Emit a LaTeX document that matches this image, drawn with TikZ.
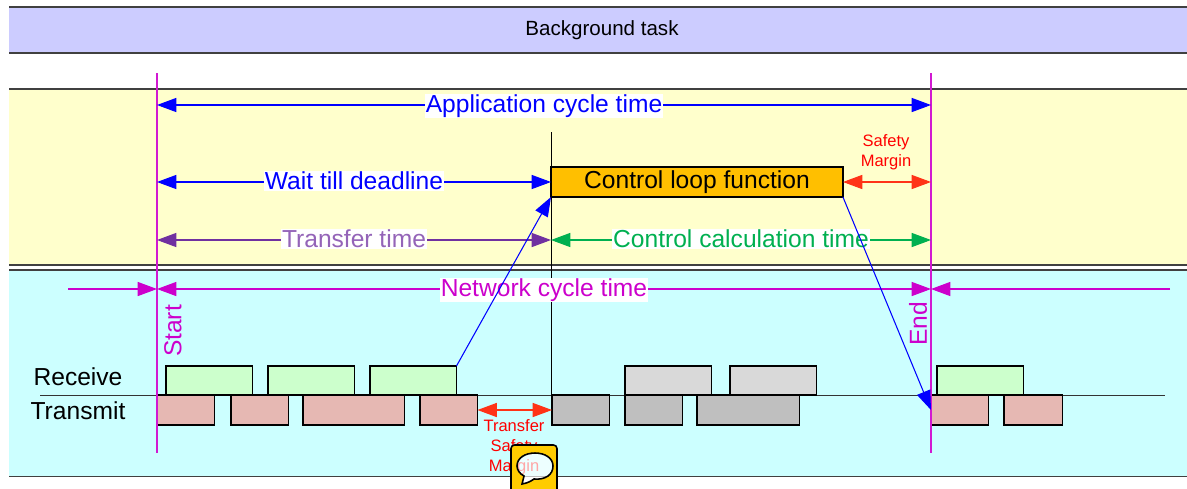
\documentclass[tikz,border=0pt]{standalone}
\usepackage{fontspec}
\setmainfont{Liberation Sans}
\usetikzlibrary{arrows.meta, positioning}
\definecolor{bandblue}{HTML}{CCCCFF}
\definecolor{bandyellow}{HTML}{FFFFCC}
\definecolor{bandcyan}{HTML}{CCFFFF}
\definecolor{rxgreen}{HTML}{CCFFCC}
\definecolor{txpink}{HTML}{E6B8B3}
\definecolor{rxgray}{HTML}{D9D9D9}
\definecolor{txgray}{HTML}{BFBFBF}
\definecolor{loopfill}{HTML}{FFBF00}
\definecolor{iconfill}{HTML}{FFCC00}
\definecolor{netmag}{HTML}{CC00CC}
\definecolor{xferpurple}{HTML}{7030A0}
\definecolor{calcgreen}{HTML}{00B050}
\definecolor{marginred}{HTML}{FF3317}
\newcommand{\bubblepath}{(524,476) -- (522,484) .. controls (528,483) and (531,481) .. (534,479) .. controls (545,480) and (553,475) .. (553,466) .. controls (553,458) and (545,453) .. (535,453) .. controls (525,453) and (517,458) .. (517,466) .. controls (517,470) and (520,474) .. (524,476) -- cycle}

\begin{document}
\begin{tikzpicture}[
  x=0.02cm, y=-0.02cm,
  band/.style={anchor=north west, minimum width=23.56cm, inner sep=0pt, outer sep=0pt},
  bandline/.style={draw=black!75, line width=0.6pt},
  rxbox/.style={draw, line width=0.65pt, anchor=north west, minimum height=0.58cm, inner sep=0pt, outer sep=0pt},
  txbox/.style={draw, line width=0.65pt, anchor=north west, minimum height=0.6cm, inner sep=0pt, outer sep=0pt},
  span/.style={{Triangle[length=11pt,width=8pt]}-{Triangle[length=11pt,width=8pt]}, line width=0.6pt},
  oneway/.style={-{Triangle[length=11pt,width=8pt]}, line width=0.6pt},
  mark line/.style={draw=netmag!90!white, line width=0.6pt},
  biglabel/.style={font=\fontsize{14}{16}\selectfont, fill=white, inner sep=0.5pt},
  small red/.style={font=\fontsize{9.4}{11.4}\selectfont, text=red, align=center, inner sep=0pt},
  side label/.style={font=\fontsize{14}{16}\selectfont, inner sep=0pt},
]
\useasboundingbox (0,0) rectangle (1187,488);

% Bands
\node[band, fill=bandblue, minimum height=0.92cm] (bgband) at (9,7) {};
\node[font=\fontsize{11.7}{13}\selectfont] (bgtask) at (602,30) {Background task};
\node[band, fill=bandyellow, minimum height=3.52cm] (appband) at (9,89) {};
\node[band, fill=bandcyan, minimum height=4.14cm] (netband) at (9,270) {};
\draw[bandline] (bgband.north west) -- (bgband.north east);
\draw[bandline] (bgband.south west) -- (bgband.south east);
\draw[bandline] (appband.north west) -- (appband.north east);
\draw[bandline] (appband.south west) -- (appband.south east);
\draw[bandline] (netband.north west) -- (netband.north east);
\draw[bandline] (netband.south west) -- (netband.south east);

% Time marks
\coordinate (starttop) at (157,73);
\coordinate (startbot) at (157,453);
\coordinate (endtop) at (931,73);
\coordinate (endbot) at (931,453);
\coordinate (midtop) at (551,132);
\coordinate (midbot) at (551,397);
\coordinate (lineleft) at (40,395);
\coordinate (lineright) at (1165,395);
\coordinate (netleft) at (68,289);
\coordinate (netright) at (1170,289);

\draw[black!80, line width=0.55pt] (lineleft) -- (lineright);
\draw[line width=0.5pt] (midtop) -- (midbot);

% Receive
\node[rxbox, fill=rxgreen, minimum width=1.73cm] (rxa) at (166,366) {};
\node[rxbox, fill=rxgreen, minimum width=1.73cm] (rxb) at (268,366) {};
\node[rxbox, fill=rxgreen, minimum width=1.73cm] (rxc) at (370,366) {};
\node[rxbox, fill=rxgray, minimum width=1.73cm] (rxd) at (625,366) {};
\node[rxbox, fill=rxgray, minimum width=1.73cm] (rxe) at (730,366) {};
\node[rxbox, fill=rxgreen, minimum width=1.73cm] (rxf) at (937,366) {};

% Transmit
\node[txbox, fill=txpink, minimum width=1.15cm] (txa) at (157,395) {};
\node[txbox, fill=txpink, minimum width=1.15cm] (txb) at (231,395) {};
\node[txbox, fill=txpink, minimum width=2.03cm] (txc) at (303,395) {};
\node[txbox, fill=txpink, minimum width=1.15cm] (txd) at (420,395) {};
\node[txbox, fill=txgray, minimum width=1.15cm] (txe) at (552,395) {};
\node[txbox, fill=txgray, minimum width=1.15cm] (txf) at (625,395) {};
\node[txbox, fill=txgray, minimum width=2.05cm] (txg) at (697,395) {};
\node[txbox, fill=txpink, minimum width=1.15cm] (txh) at (931,395) {};
\node[txbox, fill=txpink, minimum width=1.17cm] (txi) at (1004,395) {};

\draw[mark line] (starttop) -- (startbot);
\draw[mark line] (endtop) -- (endbot);

% Control loop
\node[draw, line width=0.65pt, fill=loopfill, anchor=north west, minimum width=5.84cm,
      minimum height=0.6cm, inner sep=0pt, outer sep=0pt, font=\fontsize{14}{16}\selectfont]
      (ctrl) at (551,167) {Control loop function};

% Spans
\draw[span, blue] (starttop |- 0,105) -- (endtop |- 0,105)
  node[midway, biglabel, yshift=-0.02cm] (apptime) {Application cycle time};
\draw[span, blue] (starttop |- ctrl.west) -- (ctrl.west)
  node[midway, biglabel, yshift=0.02cm] (waittime) {Wait till deadline};
\draw[span, marginred] (ctrl.east) -- (endtop |- ctrl.east);
\node[small red] (safety) at (886,152) {Safety\\Margin};
\draw[span, xferpurple] (starttop |- 0,240) -- (midtop |- 0,240)
  node[midway, biglabel, text=xferpurple!75, yshift=0.02cm] (xfertime) {Transfer time};
\draw[span, calcgreen] (midtop |- 0,240) -- (endtop |- 0,240)
  node[midway, biglabel, yshift=0.02cm] (calctime) {Control calculation time};
\draw[span, netmag] (starttop |- netleft) -- (endtop |- netleft)
  node[midway, biglabel, yshift=-0.02cm] (nettime) {Network cycle time};
\draw[oneway, netmag] (netleft) -- (starttop |- netleft);
\draw[oneway, netmag] (netright) -- (endtop |- netright);

% Labels
\node[side label, text=netmag, rotate=90] (startlab) at (173,331) {Start};
\node[side label, text=netmag, rotate=90] (endlab) at (918,324) {End};
\node[side label] (rxlab) at (78,377) {Receive};
\node[side label] (txlab) at (78,411) {Transmit};

% Data flow
\draw[oneway, blue] (rxc.north east) -- (ctrl.south west);
\draw[oneway, blue] (ctrl.south east) -- (txh.west);

% Transfer margin
\draw[span, marginred] (txd.east) -- (txe.west);
\node[small red] (xfermargin) at (514,447) {Transfer\\Safety\\Margin};

% Comment icon
\fill[iconfill, even odd rule, rounded corners=2pt] (511,445) rectangle (557,495) \bubblepath;
\draw[line width=0.9pt, rounded corners=2pt] (511,495) -- (511,445) -- (557,445) -- (557,495);
\fill[white, opacity=0.65] \bubblepath;
\draw[line width=0.9pt] \bubblepath;
\end{tikzpicture}
\end{document}
